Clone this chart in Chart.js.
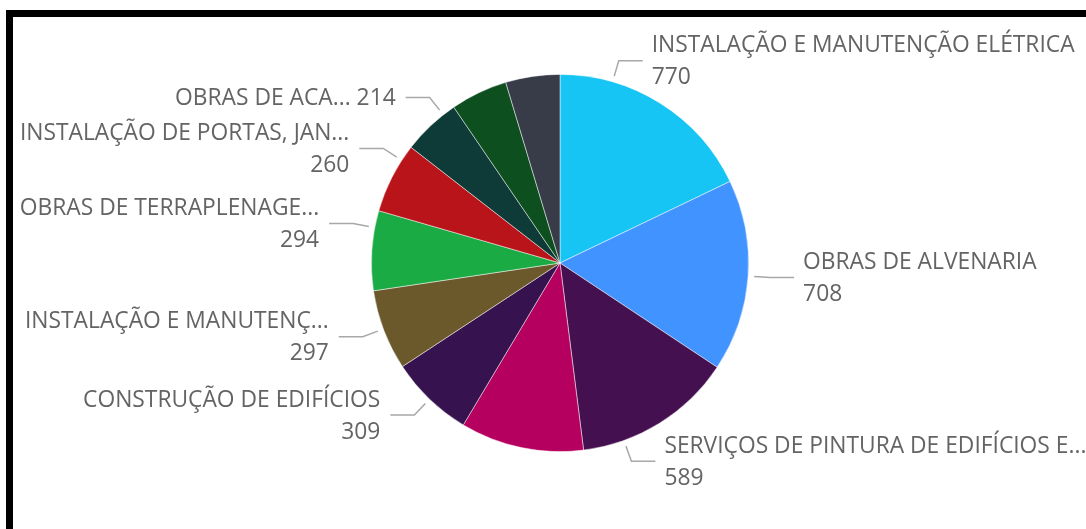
<!DOCTYPE html>
<html>
<head>
<meta charset="utf-8">
<script src="https://cdn.jsdelivr.net/npm/chart.js@4"></script>
<style>
  html, body { margin: 0; padding: 0; background: #fff; }
  #wrap { position: relative; width: 1086px; height: 529px; overflow: hidden; }
  #frame { position: absolute; left: 6px; top: 10px; right: -10px; bottom: -10px;
           border-top: 7px solid #000; border-left: 7px solid #000; }
  canvas { position: absolute; left: 0; top: 0; }
</style>
</head>
<body>
<div id="wrap">
  <div id="frame"></div>
  <canvas id="c" width="1086" height="529"></canvas>
</div>
<script>
const categories = [
  "INSTALAÇÃO E MANUTENÇÃO ELÉTRICA",
  "OBRAS DE ALVENARIA",
  "SERVIÇOS DE PINTURA DE EDIFÍCIOS E...",
  "(sem rótulo 1)",
  "CONSTRUÇÃO DE EDIFÍCIOS",
  "INSTALAÇÃO E MANUTENÇ...",
  "OBRAS DE TERRAPLENAGE...",
  "INSTALAÇÃO DE PORTAS, JAN...",
  "OBRAS DE ACA...",
  "(sem rótulo 2)",
  "(sem rótulo 3)"
];
const values = [770, 708, 589, 455, 309, 297, 294, 260, 214, 210, 200];
const showLabel = [true, true, true, false, true, true, true, true, true, false, false];
const singleLineLabel = [false, false, false, false, false, false, false, false, true, false, false];
// label angle nudges (degrees) used to avoid overlaps, as the original layout does
const labelNudgeDeg = [-16, 0, 12, 0, 0, 0.4, 7, 6, 5, 0, 0];
const colors = ["#16C5F3", "#4193FF", "#45104F", "#B6005F", "#36124E", "#6B592C",
                "#1BAB44", "#B9141A", "#0E3B37", "#0D4F1F", "#373C48"];

const FONT = '22.8px "Open Sans"';
const TEXT_COLOR = '#646464';

const leaderPlugin = {
  id: 'leaders',
  afterDatasetsDraw(chart) {
    const ctx = chart.ctx;
    const meta = chart.getDatasetMeta(0);
    ctx.save();
    ctx.font = FONT;
    ctx.textBaseline = 'middle';
    meta.data.forEach((arc, i) => {
      if (!showLabel[i]) return;
      const R = arc.outerRadius;
      const a = (arc.startAngle + arc.endAngle) / 2 + labelNudgeDeg[i] * Math.PI / 180;
      const cx = arc.x, cy = arc.y;
      const p0 = { x: cx + (R + 6) * Math.cos(a), y: cy + (R + 6) * Math.sin(a) };
      const p1 = { x: cx + (R + 22) * Math.cos(a), y: cy + (R + 22) * Math.sin(a) };
      const right = Math.cos(a) >= 0;
      const p2 = { x: p1.x + (right ? 24 : -24), y: p1.y };
      ctx.strokeStyle = '#A8A8A8';
      ctx.lineWidth = 1.5;
      ctx.beginPath();
      ctx.moveTo(p0.x, p0.y); ctx.lineTo(p1.x, p1.y); ctx.lineTo(p2.x, p2.y);
      ctx.stroke();
      ctx.fillStyle = TEXT_COLOR;
      ctx.textAlign = right ? 'left' : 'right';
      const tx = p2.x + (right ? 9 : -10);
      const val = String(chart.data.datasets[0].data[i]);
      if (singleLineLabel[i]) {
        ctx.fillText(chart.data.labels[i] + ' ' + val, tx, p1.y + 1);
      } else {
        ctx.fillText(chart.data.labels[i], tx, p1.y - 15);
        ctx.fillText(val, tx, p1.y + 17);
      }
    });
    ctx.restore();
  }
};

new Chart(document.getElementById('c'), {
  type: 'pie',
  data: {
    labels: categories,
    datasets: [{
      data: values,
      backgroundColor: colors,
      borderColor: 'rgba(255,255,255,0.6)',
      borderWidth: 0.8
    }]
  },
  options: {
    responsive: false,
    animation: false,
    layout: { padding: { left: 300, right: 266, top: 74, bottom: 77 } },
    plugins: { legend: { display: false }, tooltip: { enabled: false } }
  },
  plugins: [leaderPlugin]
});
</script>
</body>
</html>
